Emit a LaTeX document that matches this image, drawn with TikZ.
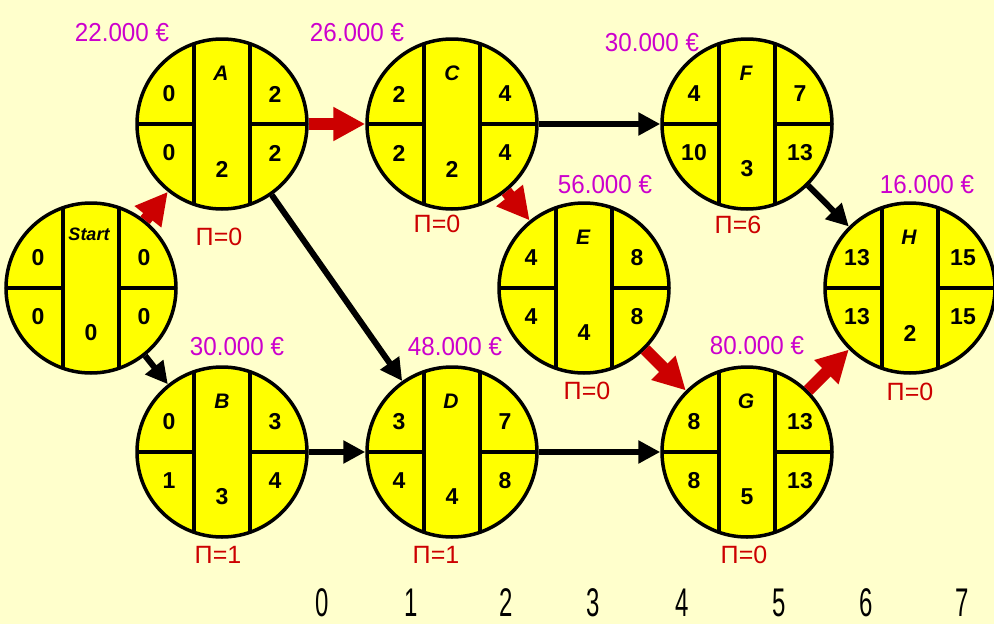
\documentclass[tikz,border=0pt]{standalone}
\usepackage{fontspec}
\setmainfont{Liberation Sans}
\newfontfamily\narrowfont[FakeStretch=0.93]{Liberation Sans}
\newfontfamily\axisfont[FakeStretch=0.6]{Liberation Sans}
\usetikzlibrary{arrows.meta}
\definecolor{bgyellow}{HTML}{FFFFCC}
\definecolor{nodeyellow}{HTML}{FFFF00}
\definecolor{costmag}{HTML}{CC00CC}
\definecolor{critred}{HTML}{CC0000}
\tikzset{
  pcirc/.style={circle, draw=black, line width=3.5pt, fill=nodeyellow, minimum size=170pt, inner sep=0pt},
  pline/.style={draw=black, line width=3.5pt},
  pnum/.style={font=\fontsize{23}{23}\selectfont\bfseries, inner sep=0pt},
  pletter/.style={font=\fontsize{21}{21}\selectfont\bfseries\itshape, inner sep=0pt},
  pstart/.style={font=\fontsize{18}{18}\selectfont\bfseries\itshape, inner sep=0pt},
  cost/.style={font=\narrowfont\fontsize{26}{26}\selectfont, text=costmag, inner sep=0pt},
  slack/.style={font=\fontsize{25}{25}\selectfont, text=critred, inner sep=0pt},
  axisnum/.style={font=\axisfont\fontsize{40}{40}\selectfont, text=black, inner sep=0pt},
  crit/.style={draw=critred, line width=12pt, -{Triangle[length=32pt,width=32pt]}},
  norm/.style={draw=black, line width=6pt, -{Triangle[length=22pt,width=22pt]}}
}
% #1 name, #2 x, #3 y, #4 letter, #5 ES, #6 EF, #7 LS, #8 LF, #9 duration
\newcommand\PertNode[9]{%
  \node[pcirc] (#1) at (#2,#3) {};
  \draw[pline] (#2-28,#3-80.3) -- (#2-28,#3+80.3);
  \draw[pline] (#2+28,#3-80.3) -- (#2+28,#3+80.3);
  \draw[pline] (#2-85,#3) -- (#2-28,#3);
  \draw[pline] (#2+28,#3) -- (#2+85,#3);
  \node[pnum] (#1es) at (#2-53,#3-30) {#5};
  \node[pnum] (#1ef) at (#2+53,#3-30) {#6};
  \node[pnum] (#1ls) at (#2-53,#3+29) {#7};
  \node[pnum] (#1lf) at (#2+53,#3+29) {#8};
  \node[pnum] (#1du) at (#2,#3+45) {#9};
}
\begin{document}
\begin{tikzpicture}[x=1pt,y=-1pt]
\fill[bgyellow] (0,0) rectangle (994,624);
\useasboundingbox (0,0) rectangle (994,624);

\PertNode{S}{91}{288}{Start}{0}{0}{0}{0}{0}
\node[pstart] (Slab) at (89,234) {Start};
\PertNode{A}{222}{124}{A}{0}{2}{0}{2}{2}
\node[pletter] (Alab) at (221,73) {A};
\PertNode{B}{222}{452}{B}{0}{3}{1}{4}{3}
\node[pletter] (Blab) at (222,401) {B};
\PertNode{C}{452}{124}{C}{2}{4}{2}{4}{2}
\node[pletter] (Clab) at (452,73) {C};
\PertNode{D}{452}{452}{D}{3}{7}{4}{8}{4}
\node[pletter] (Dlab) at (451,401) {D};
\PertNode{E}{584}{288}{E}{4}{8}{4}{8}{4}
\node[pletter] (Elab) at (583,237) {E};
\PertNode{F}{747}{124}{F}{4}{7}{10}{13}{3}
\node[pletter] (Flab) at (746,73) {F};
\PertNode{G}{747}{452}{G}{8}{13}{8}{13}{5}
\node[pletter] (Glab) at (746,401) {G};
\PertNode{H}{910}{288}{H}{13}{15}{13}{15}{2}
\node[pletter] (Hlab) at (909,237) {H};

% costs
\node[cost] (Acost) at (122,33) {22.000 €};
\node[cost] (Ccost) at (357,33) {26.000 €};
\node[cost] (Fcost) at (652,43) {30.000 €};
\node[cost] (Ecost) at (605,185) {56.000 €};
\node[cost] (Hcost) at (927,185) {16.000 €};
\node[cost] (Bcost) at (237,347) {30.000 €};
\node[cost] (Dcost) at (455,347) {48.000 €};
\node[cost] (Gcost) at (757,346) {80.000 €};

% slacks
\node[slack] (Aslack) at (219,237) {Π=0};
\node[slack] (Cslack) at (437,224) {Π=0};
\node[slack] (Fslack) at (738,225) {Π=6};
\node[slack] (Eslack) at (587,391) {Π=0};
\node[slack] (Hslack) at (910,392) {Π=0};
\node[slack] (Bslack) at (218,555) {Π=1};
\node[slack] (Dslack) at (436,555) {Π=1};
\node[slack] (Gslack) at (744,555) {Π=0};

% connectors
\draw[crit] (S) -- (A);
\draw[crit] (A) -- (C);
\draw[crit] (C) -- (E);
\draw[crit] (E) -- (G);
\draw[crit] (G) -- (H);
\draw[norm] (S) -- (B);
\draw[norm] (A) -- (D);
\draw[norm] (B) -- (D);
\draw[norm] (C) -- (F);
\draw[norm] (D) -- (G);
\draw[norm] (F) -- (H);

% time axis
\node[axisnum] (t0) at (322,603) {0};
\node[axisnum] (t1) at (411,603) {1};
\node[axisnum] (t2) at (506,603) {2};
\node[axisnum] (t3) at (593,603) {3};
\node[axisnum] (t4) at (682,603) {4};
\node[axisnum] (t5) at (779,603) {5};
\node[axisnum] (t6) at (866,603) {6};
\node[axisnum] (t7) at (962,603) {7};
\end{tikzpicture}
\end{document}
